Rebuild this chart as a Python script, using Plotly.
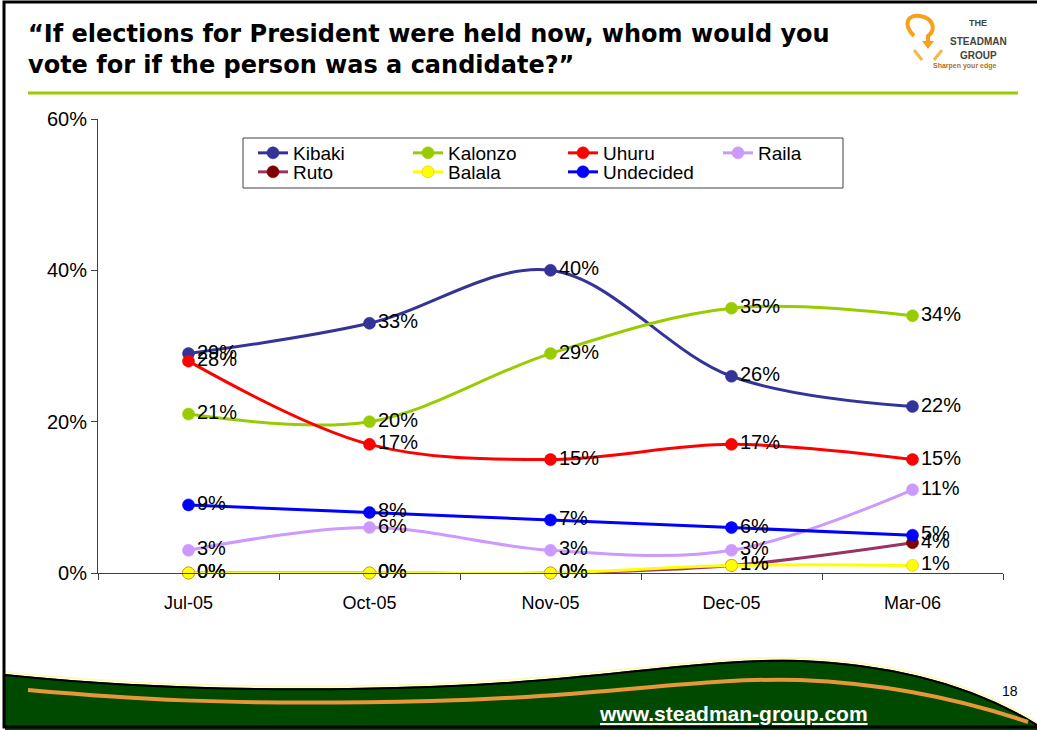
import plotly.graph_objects as go

# Survey waves and candidate support (%)
months = ["Jul-05", "Oct-05", "Nov-05", "Dec-05", "Mar-06"]
kibaki = [29, 33, 40, 26, 22]
kalonzo = [21, 20, 29, 35, 34]
uhuru = [28, 17, 15, 17, 15]
raila = [3, 6, 3, 3, 11]
ruto = [0, 0, 0, 1, 4]
balala = [0, 0, 0, 1, 1]
undecided = [9, 8, 7, 6, 5]

y_ticks = [0, 20, 40, 60]

W, H = 1037, 730
ML, MR, MT, MB = 98, 34, 119, 157
PW, PH = W - ML - MR, H - MT - MB

FONT = "Liberation Sans, Arial, sans-serif"
TITLE_FONT = "DejaVu Sans, Verdana, sans-serif"


def px(x, y):
    """Pixel position on the page -> paper coordinates."""
    return (x - ML) / PW, (H - MB - y) / PH


def path(cmds):
    out = []
    for c in cmds:
        if isinstance(c, str):
            out.append(c)
        else:
            X, Y = px(*c)
            out.append(f"{X:.5f},{Y:.5f}")
    return " ".join(out)


series = [
    ("Kibaki", kibaki, "#333399", "#333399", "legend"),
    ("Kalonzo", kalonzo, "#99CC00", "#99CC00", "legend"),
    ("Uhuru", uhuru, "#FF0000", "#FF0000", "legend"),
    ("Raila", raila, "#CC99FF", "#CC99FF", "legend"),
    ("Ruto", ruto, "#993366", "#800000", "legend2"),
    ("Balala", balala, "#FFFF00", "#FFFF00", "legend2"),
    ("Undecided", undecided, "#0000FF", "#0000FF", "legend2"),
]

fig = go.Figure()
for name, vals, lc, mc, lg in series:
    fig.add_trace(go.Scatter(
        x=months, y=vals, name=name, legend=lg,
        mode="lines+markers+text",
        line=dict(color=lc, width=3, shape="spline", smoothing=1),
        marker=dict(color=mc, size=12,
                    line=dict(color="#E0C000" if name == "Balala" else mc, width=0.6)),
        text=[f"{v}%" for v in vals],
        textposition="middle right",
        textfont=dict(family=FONT, size=20, color="black"),
        cliponaxis=False,
        hoverinfo="skip",
    ))

lx, ly1 = px(253, 134)
_, ly2 = px(253, 153)
legend_common = dict(
    orientation="h", xanchor="left", yanchor="top",
    entrywidth=110, entrywidthmode="pixels",
    font=dict(family=FONT, size=19, color="black"),
    bgcolor="rgba(0,0,0,0)", borderwidth=0,
    itemclick=False, itemdoubleclick=False,
)

shapes = []
# legend frame
x0, y0 = px(243, 138)
x1, y1 = px(843, 188)
shapes.append(dict(type="rect", xref="paper", yref="paper", x0=x0, y0=y0, x1=x1, y1=y1,
                   line=dict(color="#404040", width=1)))
# green rule under the title
a, b = px(28, 93)
c, d = px(1018, 93)
shapes.append(dict(type="line", xref="paper", yref="paper", x0=a, y0=b, x1=c, y1=d,
                   line=dict(color="#99CC00", width=3)))
# green footer wave
top_edge = [(5, 674), "C", (120, 686), (260, 692), (430, 686),
            "C", (600, 680), (700, 657), (800, 660),
            "C", (900, 664), (980, 688), (1040, 726)]


def shifted(cmds, dy):
    return [c if isinstance(c, str) else (c[0], c[1] + dy) for c in cmds]


shapes.append(dict(type="path", xref="paper", yref="paper",
                   path=path(["M"] + top_edge + ["L", (1040, 730), "L", (5, 730), "Z"]),
                   fillcolor="#004A00", line=dict(width=0)))
shapes.append(dict(type="path", xref="paper", yref="paper",
                   path=path(["M"] + shifted(top_edge, -2)),
                   line=dict(color="#FFF8C0", width=2)))
shapes.append(dict(type="path", xref="paper", yref="paper",
                   path=path(["M"] + shifted(top_edge, 1)),
                   line=dict(color="#000000", width=2)))
shapes.append(dict(type="path", xref="paper", yref="paper",
                   path=path(["M", (28, 690), "C", (120, 698), (220, 706), (430, 701),
                              "C", (600, 697), (700, 677), (800, 680),
                              "C", (900, 684), (975, 704), (1028, 722)]),
                   line=dict(color="#E8963A", width=4)))
# slide frame
a, b = px(4, 2)
c, d = px(1045, 727)
shapes.append(dict(type="rect", xref="paper", yref="paper", x0=a, y0=b, x1=c, y1=d,
                   line=dict(color="black", width=3)))
# logo swirl
shapes.append(dict(type="path", xref="paper", yref="paper",
                   path=path(["M", (914, 36), "C", (902, 24), (908, 14), (920, 16),
                              "C", (934, 18), (936, 30), (928, 36), "L", (928, 42)]),
                   line=dict(color="#F7A11A", width=4)))
shapes.append(dict(type="path", xref="paper", yref="paper",
                   path=path(["M", (922, 41), "L", (934, 41), "L", (928, 49), "Z"]),
                   fillcolor="#F7A11A", line=dict(width=0)))
shapes.append(dict(type="path", xref="paper", yref="paper",
                   path=path(["M", (914, 50), "L", (922, 60), "M", (942, 50), "L", (934, 60)]),
                   line=dict(color="#F5B84A", width=3)))

annotations = []
tx, ty = px(26, 18)
annotations.append(dict(
    xref="paper", yref="paper", x=tx, y=ty, xanchor="left", yanchor="top", align="left",
    text="<b>“If elections for President were held now, whom would you<br>vote for if the person was a candidate?”</b>",
    showarrow=False, font=dict(family=TITLE_FONT, size=24, color="black")))
for txt, xx, yy, sz, col in [("THE", 978, 23, 9, "#3F4638"), ("STEADMAN", 978, 41, 10, "#3F4638"),
                             ("GROUP", 978, 55, 10, "#3F4638"),
                             ("Sharpen your edge", 965, 66, 7, "#B0701E")]:
    X, Y = px(xx, yy)
    annotations.append(dict(xref="paper", yref="paper", x=X, y=Y, xanchor="center",
                            yanchor="middle", text=f"<b>{txt}</b>", showarrow=False,
                            font=dict(family=FONT, size=sz, color=col)))
X, Y = px(1010, 691)
annotations.append(dict(xref="paper", yref="paper", x=X, y=Y, xanchor="center", yanchor="middle",
                        text="18", showarrow=False, font=dict(family=FONT, size=14, color="black")))
X, Y = px(733, 713)
annotations.append(dict(xref="paper", yref="paper", x=X, y=Y, xanchor="center", yanchor="middle",
                        text="<b><u>www.steadman-group.com</u></b>", showarrow=False,
                        font=dict(family=FONT, size=21, color="white")))

fig.update_layout(
    width=W, height=H,
    margin=dict(l=ML, r=MR, t=MT, b=MB, pad=0),
    paper_bgcolor="white", plot_bgcolor="white",
    font=dict(family=FONT, size=16, color="black"),
    showlegend=True,
    legend=dict(x=lx, y=ly1, **legend_common),
    legend2=dict(x=lx, y=ly2, **legend_common),
    xaxis=dict(type="category", range=[-0.5, 4.5], showgrid=False, showline=True,
               linecolor="#404040", linewidth=1, ticks="outside", tickson="boundaries",
               ticklen=6, tickcolor="#404040", tickfont=dict(family=FONT, size=18),
               ticklabelstandoff=13, zeroline=False, fixedrange=True),
    yaxis=dict(range=[0, 60], tickvals=y_ticks, ticktext=[f"{v}%" for v in y_ticks],
               showgrid=False, showline=True, linecolor="#404040", linewidth=1,
               ticks="outside", ticklen=6, tickcolor="#404040",
               tickfont=dict(family=FONT, size=20), zeroline=False, fixedrange=True),
    shapes=shapes,
    annotations=annotations,
)

fig.write_html("out.html")
